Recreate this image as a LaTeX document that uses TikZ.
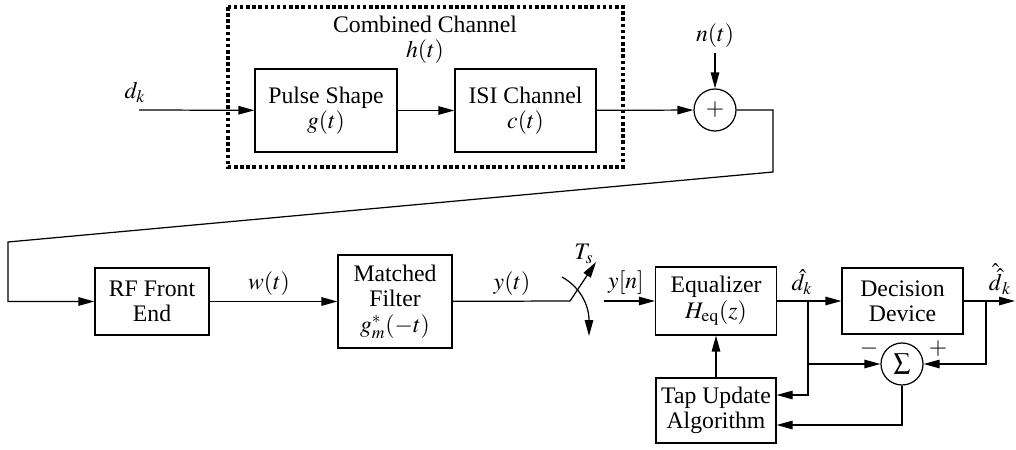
\documentclass[tikz,border=0pt]{standalone}
\usepackage{mathptmx}
\usepackage{fontspec}
\setmainfont{Liberation Serif}
\usetikzlibrary{arrows.meta, positioning, calc}

\begin{document}
\begin{tikzpicture}[
    x=0.02cm, y=-0.02cm,
    every node/.style={align=center, font=\fontsize{13.5}{14.5}\selectfont},
    block/.style={rectangle, draw, line width=0.7pt, inner sep=0pt},
    adder/.style={circle, draw, line width=0.7pt, inner sep=0pt, minimum size=0.84cm},
    sig/.style={line width=0.7pt, -{Triangle[length=0.32cm, width=0.17cm]}},
    wire/.style={line width=0.7pt}
]
\useasboundingbox (0,0) rectangle (1016,449);

% transmitter and channel
\draw[line width=2pt, dash pattern=on 2pt off 1.5pt] (228,7) rectangle (623,167);
\node (chlab) at (425,40) {Combined Channel\\ $h(t)$};
\node[block, minimum width=2.84cm, minimum height=1.66cm] (pulse) at (326,110.5) {Pulse Shape\\ $g(t)$};
\node[block, minimum width=2.82cm, minimum height=1.66cm] (isi) at (525.5,110.5) {ISI Channel\\ $c(t)$};
\node[adder] (add) at (715,110) {$+$};
\node (nlab) at (715,36) {$n(t)$};
\node (dklab) at (135,92) {$d_k$};
\coordinate (dkin) at (139,110);
\coordinate (noise) at (715,53);
\draw[sig] (dkin) -- (pulse);
\draw[sig] (pulse) -- (isi);
\draw[sig] (isi) -- (add);
\draw[sig] (noise) -- (add);

% receiver
\node[block, minimum width=2.28cm, minimum height=1.34cm] (rf) at (152,301.5) {RF Front\\ End};
\node[block, minimum width=2.28cm, minimum height=1.86cm] (mf) at (395,301.5) {Matched\\ Filter\\ $g_m^*(-t)$};
\node[block, minimum width=2.42cm, minimum height=1.36cm] (eq) at (716,301) {Equalizer\\ $H_{\mathrm{eq}}(z)$};
\node[block, minimum width=2.42cm, minimum height=1.32cm] (dec) at (902.5,301) {Decision\\ Device};
\node[block, minimum width=2.40cm, minimum height=1.30cm] (tap) at (716,410.5) {Tap Update\\ Algorithm};
\node[adder] (sigma) at (902,364) {$\textstyle\sum$};

\coordinate (c1) at (773,172);
\coordinate (c2) at (8,242);
\draw[sig] (add.east) -| (c1) -- (c2) |- (rf.west);
\draw[sig] (rf) -- (mf);

% sampler
\coordinate (samp) at (570,301);
\coordinate (swtip) at (596,262);
\coordinate (arcA) at (562,277);
\coordinate (arcB) at (589,336);
\coordinate (ynin) at (604,301);
\draw[wire] (mf) -- (samp);
\draw[sig] (samp) -- (swtip);
\draw[sig] (arcA) .. controls (580,287) and (589,305) .. (arcB);
\draw[sig] (ynin) -- (eq);

% error feedback
\coordinate (br1) at (808,301);
\coordinate (br2) at (986,301);
\coordinate (out) at (1015,301);
\draw[sig] (eq) -- (dec);
\draw[sig] (dec) -- (out);
\draw[sig] (br1) |- (sigma.west);
\draw[sig] (br1) |- ([yshift=0.31cm]tap.east);
\draw[sig] (br2) |- (sigma.east);
\draw[sig] (sigma.south) |- ([yshift=-0.29cm]tap.east);
\draw[sig] (tap.north) -- (tap.north |- eq.south);

% labels
\node at (269,284) {$w(t)$};
\node at (512,284) {$y(t)$};
\node at (584,254) {$T_s$};
\node at (626,283) {$y[n]$};
\node at (802,282) {$\hat{d}_k$};
\node at (1000,279) {$\hat{\hat{d}}_k$};
\node at (869,349) {$-$};
\node at (938,349) {$+$};
\end{tikzpicture}
\end{document}
